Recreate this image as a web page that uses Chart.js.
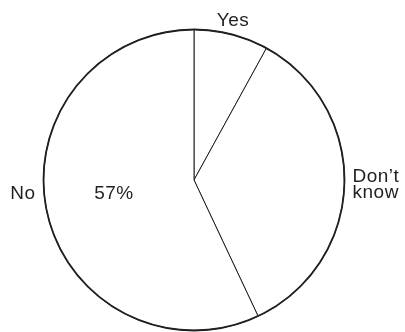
<!DOCTYPE html>
<html>
<head>
<meta charset="utf-8">
<script src="https://cdn.jsdelivr.net/npm/chart.js@4"></script>
<style>
  html, body { margin: 0; padding: 0; background: #ffffff; }
  #wrap { width: 405px; height: 332px; position: relative; }
</style>
</head>
<body>
<div id="wrap"><canvas id="pie"></canvas></div>
<script>
// Answers, clockwise from the top
const labels = ["Yes", "Don't know", "No"];
const values = [8, 35, 57];
// Only the "No" share is printed inside the pie
const shownPercent = [false, false, true];

const ink = "#231f20";
const font = "19px 'Liberation Sans', Arial, sans-serif";

// Thicker outline round the whole pie, then the text labels
const pieText = {
    id: "pieText",
    afterDatasetsDraw(chart) {
        const ctx = chart.ctx;
        const arcs = chart.getDatasetMeta(0).data;
        const cx = arcs[0].x, cy = arcs[0].y, r = arcs[0].outerRadius;
        ctx.save();
        ctx.beginPath();
        ctx.arc(cx, cy, r, 0, Math.PI * 2);
        ctx.lineWidth = 1.8;
        ctx.strokeStyle = ink;
        ctx.stroke();

        ctx.fillStyle = ink;
        ctx.font = font;
        ctx.letterSpacing = "0.5px";
        ctx.textBaseline = "alphabetic";
        // Yes: above the top
        ctx.textAlign = "center";
        ctx.fillText(labels[0], cx + 39, cy - r - 4);
        // Don't know: right side, two lines
        ctx.textAlign = "left";
        const dk = labels[1].replace("'", "\u2019").split(" ");
        ctx.fillText(dk[0], cx + r + 8, cy + 2);
        ctx.fillText(dk[1], cx + r + 8, cy + 18);
        // No: left side
        ctx.textAlign = "right";
        ctx.fillText(labels[2], cx - r - 8, cy + 19);

        const total = values.reduce((a, b) => a + b, 0);
        ctx.textAlign = "center";
        values.forEach((v, i) => {
            if (!shownPercent[i]) return;
            ctx.fillText(Math.round(v / total * 100) + "%", cx - 80, cy + 19);
        });
        ctx.restore();
    },
};

new Chart(document.getElementById("pie"), {
    type: "pie",
    data: {
        labels: labels,
        datasets: [{
            data: values,
            backgroundColor: "#ffffff",
            borderColor: ink,
            borderWidth: 1,
        }],
    },
    options: {
        responsive: true,
        maintainAspectRatio: false,
        animation: false,
        layout: { padding: { top: 29, bottom: 1, left: 43, right: 60 } },
        plugins: {
            legend: { display: false },
            tooltip: { enabled: false },
        },
    },
    plugins: [pieText],
});
</script>
</body>
</html>
